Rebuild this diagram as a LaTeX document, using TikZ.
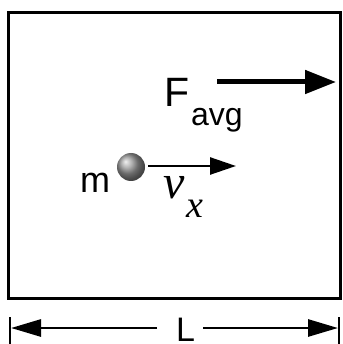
\documentclass[tikz,border=0pt]{standalone}
\usepackage{fontspec}
\setmainfont{Liberation Sans}
\newfontfamily\vfont{Liberation Serif}
\usetikzlibrary{arrows.meta}
\tikzset{
  frame/.style={line width=3pt},
  bigarrow/.style={line width=5pt,-{Triangle[length=31pt,width=23pt]}},
  velarrow/.style={line width=2.5pt,-{Triangle[length=26pt,width=17pt]}},
  dimarrow/.style={line width=2.8pt,-{Triangle[length=30pt,width=17pt]}},
  tick/.style={line width=2.5pt},
  lbl/.style={inner sep=0pt,anchor=base west}
}
\begin{document}
\begin{tikzpicture}[x=1pt,y=-1pt]
\useasboundingbox (0,0) rectangle (342,344);
% box
\draw[frame] (8.5,13) rectangle (340,298.5);
% force arrow
\coordinate (fs) at (217,82);
\coordinate (fe) at (336,82);
\draw[bigarrow] (fs) -- (fe);
\node[lbl,font=\fontsize{41}{41}\selectfont] (F) at (164,107) {F};
\node[lbl,font=\fontsize{32}{32}\selectfont] (avg) at (191,126) {avg};
% ball
\shade[ball color=gray!80] (131,167) circle (14);
\node[lbl,font=\fontsize{36}{36}\selectfont] (m) at (80,193) {m};
% velocity arrow
\coordinate (vs) at (148,166);
\coordinate (ve) at (236,166);
\draw[velarrow] (vs) -- (ve);
\node[lbl,font=\vfont\itshape\fontsize{48}{48}\selectfont] (v) at (163,198) {v};
\node[lbl,font=\vfont\itshape\fontsize{38}{38}\selectfont] (x) at (186,217) {x};
% dimension L
\coordinate (lt1) at (10,317);
\coordinate (lb1) at (10,344);
\coordinate (rt1) at (339,317);
\coordinate (rb1) at (339,344);
\draw[tick] (lt1) -- (lb1);
\draw[tick] (rt1) -- (rb1);
\coordinate (la) at (157,328);
\coordinate (lz) at (11,328);
\coordinate (ra) at (203,328);
\coordinate (rz) at (338,328);
\draw[dimarrow] (la) -- (lz);
\draw[dimarrow] (ra) -- (rz);
\node[lbl,font=\fontsize{34}{34}\selectfont] (L) at (176,341) {L};
\end{tikzpicture}
\end{document}
